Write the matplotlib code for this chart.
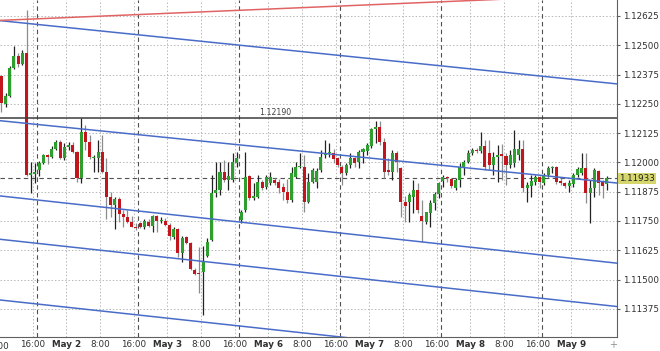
import matplotlib.pyplot as plt
import numpy as np

# EURUSD H1, 1 May 08:00 - 9 May 08:00 (weekend bars skipped)
opens = [1.12369, 1.12249, 1.12283, 1.12403, 1.12454, 1.12420, 1.12467, 1.11946, 1.11951, 1.11968,
         1.11998, 1.12032, 1.12023, 1.12057, 1.12087, 1.12019, 1.12066, 1.12074, 1.12045, 1.11934,
         1.12130, 1.12087, 1.12019, 1.12019, 1.12045, 1.11959, 1.11853, 1.11818, 1.11844, 1.11780,
         1.11767, 1.11746, 1.11725, 1.11742, 1.11725, 1.11746, 1.11729, 1.11772, 1.11750, 1.11750,
         1.11733, 1.11682, 1.11716, 1.11614, 1.11682, 1.11656, 1.11541, 1.11528, 1.11533, 1.11601,
         1.11669, 1.11870, 1.11882, 1.11959, 1.11925, 1.11925, 1.11998, 1.11754, 1.11797, 1.11942,
         1.11848, 1.11853, 1.11917, 1.11895, 1.11912, 1.11925, 1.11917, 1.11895, 1.11874, 1.11840,
         1.11938, 1.11981, 1.11981, 1.11831, 1.11917, 1.11917, 1.11968, 1.12032, 1.12040, 1.12040,
         1.12019, 1.11981, 1.11955, 1.11989, 1.12019, 1.12002, 1.12045, 1.12049, 1.12070, 1.12143,
         1.12151, 1.12087, 1.11968, 1.11959, 1.12040, 1.11976, 1.11831, 1.11831, 1.11853, 1.11882,
         1.11772, 1.11746, 1.11784, 1.11827, 1.11865, 1.11921, 1.11938, 1.11929, 1.11891, 1.11925,
         1.11981, 1.12002, 1.12040, 1.12053, 1.12049, 1.12070, 1.12040, 1.11989, 1.12023, 1.12036,
         1.12028, 1.11989, 1.11998, 1.12032, 1.12057, 1.11891, 1.11900, 1.11917, 1.11938, 1.11912,
         1.11946, 1.11976, 1.11981, 1.11921, 1.11912, 1.11900, 1.11908, 1.11946, 1.11955, 1.11976,
         1.11870, 1.11891, 1.11964, 1.11917, 1.11908]
highs = [1.12373, 1.12296, 1.12411, 1.12497, 1.12467, 1.12480, 1.12650, 1.12002, 1.11998, 1.12006,
         1.12036, 1.12036, 1.12070, 1.12096, 1.12096, 1.12083, 1.12087, 1.12087, 1.12049, 1.12190,
         1.12160, 1.12117, 1.12032, 1.12096, 1.12117, 1.12019, 1.11874, 1.11853, 1.11853, 1.11797,
         1.11797, 1.11772, 1.11742, 1.11746, 1.11759, 1.11759, 1.11776, 1.11776, 1.11767, 1.11763,
         1.11742, 1.11725, 1.11720, 1.11686, 1.11686, 1.11661, 1.11550, 1.11639, 1.11644, 1.11678,
         1.11946, 1.12002, 1.12002, 1.12010, 1.12002, 1.12040, 1.12045, 1.11797, 1.12045, 1.11946,
         1.11912, 1.11946, 1.11925, 1.11946, 1.11959, 1.11934, 1.11929, 1.11912, 1.11929, 1.11981,
         1.12002, 1.12040, 1.12032, 1.11955, 1.11976, 1.11976, 1.12053, 1.12096, 1.12083, 1.12057,
         1.12023, 1.11989, 1.11998, 1.12040, 1.12023, 1.12053, 1.12062, 1.12083, 1.12147, 1.12177,
         1.12177, 1.12104, 1.12019, 1.12053, 1.12049, 1.11981, 1.11857, 1.11870, 1.11925, 1.11912,
         1.11840, 1.11789, 1.11840, 1.11874, 1.11917, 1.11946, 1.11942, 1.11934, 1.11934, 1.11998,
         1.12010, 1.12053, 1.12062, 1.12062, 1.12130, 1.12096, 1.12096, 1.12045, 1.12074, 1.12079,
         1.12040, 1.12053, 1.12138, 1.12096, 1.12096, 1.11917, 1.11946, 1.11946, 1.11942, 1.11955,
         1.11985, 1.11985, 1.11985, 1.11934, 1.11917, 1.11925, 1.11955, 1.11981, 1.12040, 1.12040,
         1.11925, 1.11976, 1.11968, 1.11925, 1.11942]
lows = [1.12215, 1.12237, 1.12279, 1.12399, 1.12407, 1.12416, 1.11942, 1.11870, 1.11912, 1.11942,
        1.11993, 1.11993, 1.12019, 1.12053, 1.12015, 1.12010, 1.12053, 1.12040, 1.11917, 1.11912,
        1.12053, 1.12015, 1.11959, 1.11959, 1.11955, 1.11759, 1.11767, 1.11716, 1.11746, 1.11725,
        1.11742, 1.11725, 1.11712, 1.11720, 1.11716, 1.11725, 1.11703, 1.11703, 1.11742, 1.11729,
        1.11669, 1.11673, 1.11597, 1.11575, 1.11652, 1.11541, 1.11520, 1.11443, 1.11349, 1.11597,
        1.11665, 1.11853, 1.11861, 1.11917, 1.11882, 1.11917, 1.11981, 1.11742, 1.11789, 1.11840,
        1.11840, 1.11848, 1.11882, 1.11887, 1.11904, 1.11904, 1.11870, 1.11840, 1.11827, 1.11831,
        1.11934, 1.11976, 1.11789, 1.11827, 1.11912, 1.11891, 1.11959, 1.12019, 1.12023, 1.11998,
        1.11981, 1.11904, 1.11946, 1.11976, 1.11981, 1.11976, 1.11998, 1.12032, 1.12062, 1.12083,
        1.12074, 1.11934, 1.11946, 1.11925, 1.11959, 1.11767, 1.11746, 1.11746, 1.11784, 1.11784,
        1.11661, 1.11737, 1.11725, 1.11797, 1.11848, 1.11895, 1.11917, 1.11891, 1.11882, 1.11895,
        1.11946, 1.11998, 1.12032, 1.12040, 1.12040, 1.11968, 1.11968, 1.11946, 1.11917, 1.11925,
        1.11904, 1.11976, 1.11981, 1.12010, 1.11874, 1.11831, 1.11853, 1.11904, 1.11891, 1.11904,
        1.11938, 1.11955, 1.11908, 1.11904, 1.11891, 1.11874, 1.11895, 1.11938, 1.11946, 1.11827,
        1.11742, 1.11853, 1.11861, 1.11848, 1.11882]
closes = [1.12254, 1.12283, 1.12403, 1.12454, 1.12420, 1.12467, 1.11946, 1.11955, 1.11959, 1.11998,
          1.12032, 1.12023, 1.12057, 1.12087, 1.12019, 1.12066, 1.12074, 1.12045, 1.11934, 1.12130,
          1.12087, 1.12023, 1.12023, 1.12045, 1.11959, 1.11853, 1.11818, 1.11844, 1.11780, 1.11767,
          1.11746, 1.11725, 1.11720, 1.11725, 1.11750, 1.11729, 1.11772, 1.11750, 1.11754, 1.11733,
          1.11686, 1.11716, 1.11614, 1.11678, 1.11656, 1.11545, 1.11524, 1.11524, 1.11575, 1.11661,
          1.11870, 1.11882, 1.11959, 1.11925, 1.11942, 1.12002, 1.12019, 1.11789, 1.11938, 1.11848,
          1.11857, 1.11917, 1.11891, 1.11938, 1.11938, 1.11912, 1.11891, 1.11874, 1.11840, 1.11955,
          1.11981, 1.11985, 1.11831, 1.11917, 1.11968, 1.11964, 1.12023, 1.12040, 1.12045, 1.12015,
          1.11989, 1.11955, 1.11989, 1.12019, 1.11998, 1.12045, 1.12057, 1.12074, 1.12143, 1.12151,
          1.12087, 1.11959, 1.11959, 1.12040, 1.12002, 1.11831, 1.11814, 1.11861, 1.11882, 1.11797,
          1.11750, 1.11789, 1.11827, 1.11865, 1.11912, 1.11938, 1.11934, 1.11900, 1.11925, 1.11981,
          1.12002, 1.12040, 1.12053, 1.12049, 1.12070, 1.11981, 1.11989, 1.12023, 1.12032, 1.12028,
          1.11989, 1.12032, 1.12057, 1.12057, 1.11891, 1.11904, 1.11921, 1.11938, 1.11917, 1.11942,
          1.11976, 1.11979, 1.11917, 1.11912, 1.11900, 1.11912, 1.11946, 1.11972, 1.11976, 1.11870,
          1.11891, 1.11968, 1.11912, 1.11900, 1.11933]

price_ticks = [1.11375, 1.11500, 1.11625, 1.11750, 1.11875, 1.12000,
               1.12125, 1.12250, 1.12375, 1.12500, 1.12625]
time_labels = ["8:00", "16:00", "May 2", "8:00", "16:00", "May 3", "8:00", "16:00", "May 6",
               "8:00", "16:00", "May 7", "8:00", "16:00", "May 8", "8:00", "16:00", "May 9"]
bars_per_label = 8

# trend channel lines: price at left edge / right edge of the window
channel_left = [1.12605, 1.12178, 1.11857, 1.11672, 1.11413]
channel_right = [1.12335, 1.11912, 1.11570, 1.11385, 1.11127]
red_line = [1.12606, 1.12717]
level_line = 1.12190
last_price = 1.11933

o = np.array(opens)
h = np.array(highs)
l = np.array(lows)
c = np.array(closes)
idx = np.arange(len(o))

fig = plt.figure(figsize=(6.6, 3.51), dpi=100)
fig.patch.set_facecolor("white")
ax = fig.add_axes([0, 1 - 337 / 351, 617 / 660, 337 / 351])
x0, x1 = -0.31, 146.39
ax.set_xlim(x0, x1)
ax.set_ylim(1.11255, 1.12693)

txt = "#303030"
tick_font = dict(family="DejaVu Sans", size=6.3)

# grid
for p in price_ticks:
    ax.axhline(p, color="#b8b8b8", lw=0.7, ls=(0, (1.5, 2)), zorder=0)
label_pos = -0.5 + bars_per_label * np.arange(len(time_labels))
for xp in label_pos:
    ax.axvline(xp, color="#b8b8b8", lw=0.7, ls=(0, (1.5, 2)), zorder=0)
# day separators
for xp in np.arange(8.5, x1, 24):
    ax.axvline(xp, color="#505050", lw=0.8, ls=(0, (4, 3)), zorder=1)

# candles
up = c >= o
wick_col = np.where(up, "#222222", "#8c8c8c")
ax.vlines(idx, l, h, colors=wick_col, lw=0.9, zorder=3)
body_bottom = np.minimum(o, c)
body_h = np.maximum(np.abs(c - o), 0.000025)
body_col = np.where(up, "#2e9e2e", "#c2161e")
ax.bar(idx, body_h, bottom=body_bottom, width=0.72, color=body_col, linewidth=0, zorder=4)

# trend lines
for a, b in zip(channel_left, channel_right):
    ax.plot([x0, x1], [a, b], color="#4a6cc9", lw=1.1, zorder=5)
ax.plot([x0, x1], red_line, color="#e06464", lw=1.1, zorder=5)

# horizontal level with label
ax.axhline(level_line, color="#3c3c3c", lw=1.1, zorder=5)
ax.text(65, level_line + 0.00003, "1.12190", fontsize=5.6, color="#404040",
        ha="center", va="bottom", zorder=6)

# bid line
ax.axhline(last_price, color="#505050", lw=0.8, ls=(0, (4, 3)), zorder=2)

# axes styling
for side in ["top", "left"]:
    ax.spines[side].set_visible(False)
for side in ["right", "bottom"]:
    ax.spines[side].set_color("#606060")
    ax.spines[side].set_linewidth(0.8)

ax.yaxis.tick_right()
ax.set_yticks(price_ticks)
ax.set_yticklabels([f"{p:.5f}" for p in price_ticks], **tick_font, color=txt)
ax.tick_params(axis="y", length=2, pad=2.5, color="#606060")

ax.set_xticks(label_pos[1:])
ax.set_xticklabels(time_labels[1:], **tick_font, color=txt)
ax.tick_params(axis="x", length=0, pad=2.5)
for t in ax.get_xticklabels():
    if t.get_text().startswith("May"):
        t.set_fontweight("bold")
# first label falls off the left edge
ax.text(label_pos[0], -0.016, time_labels[0], transform=ax.get_xaxis_transform(),
        ha="center", va="top", color=txt, clip_on=False, **tick_font)

# current price tag
ax.text(1.004, last_price, f"{last_price:.5f}", transform=ax.get_yaxis_transform(),
        ha="left", va="center", color="#202020", clip_on=False, zorder=10,
        bbox=dict(boxstyle="square,pad=0.12", facecolor="#d6d66e", edgecolor="none"),
        **tick_font)

fig.text(613 / 660, 1 - 345 / 351, "+", ha="center", va="center", color="#909090", fontsize=7)

plt.savefig("out.png", dpi=100)
